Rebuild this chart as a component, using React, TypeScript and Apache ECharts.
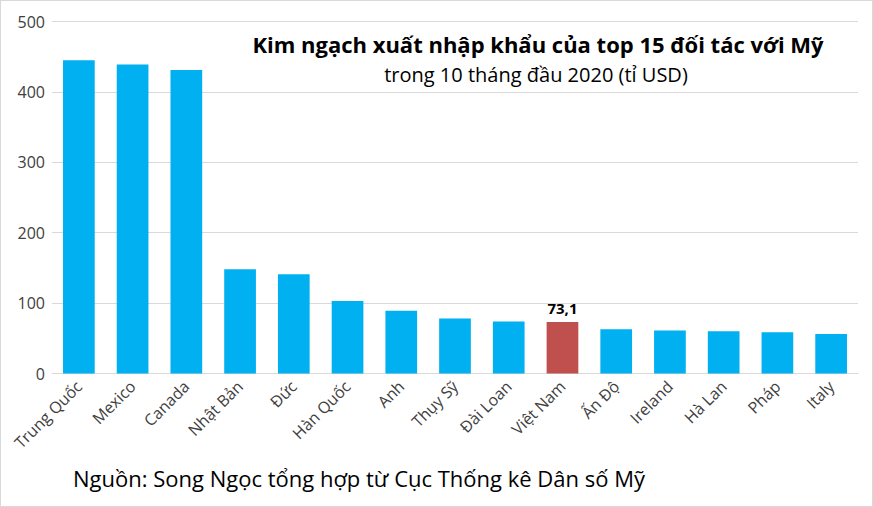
import React, { useEffect, useRef } from 'react';
import * as echarts from 'echarts';

const categories = [
  'Trung Quốc', 'Mexico', 'Canada', 'Nhật Bản', 'Đức', 'Hàn Quốc', 'Anh', 'Thụy Sỹ',
  'Đài Loan', 'Việt Nam', 'Ấn Độ', 'Ireland', 'Hà Lan', 'Pháp', 'Italy',
];
const values = [445, 439, 431, 148, 141, 103, 89, 78, 74, 73.1, 63, 61, 60, 58.5, 56];
const highlight = 'Việt Nam';
const yTicks = [0, 100, 200, 300, 400, 500];

const App: React.FC = () => {
  const chartRef = useRef<HTMLDivElement>(null);

  useEffect(() => {
    if (!chartRef.current) return;
    const chart = echarts.init(chartRef.current, null, { renderer: 'svg' });

    const font = 'Open Sans, Noto Sans, sans-serif';

    const option: echarts.EChartsOption = {
      animation: false,
      backgroundColor: '#fff',
      textStyle: { fontFamily: font },
      title: [
        {
          text: 'Kim ngạch xuất nhập khẩu của top 15 đối tác với Mỹ',
          left: 532,
          top: 27,
          textAlign: 'center',
          textStyle: { fontSize: 22, fontWeight: 'bold', color: '#000', fontFamily: font },
        },
        {
          text: 'trong 10 tháng đầu 2020 (tỉ USD)',
          left: 530,
          top: 58,
          textAlign: 'center',
          textStyle: { fontSize: 20, fontWeight: 'normal', color: '#000', fontFamily: font },
        },
        {
          text: 'Nguồn: Song Ngọc tổng hợp từ Cục Thống kê Dân số Mỹ',
          left: 67,
          top: 461,
          textStyle: { fontSize: 22, fontWeight: 'normal', color: '#000', fontFamily: font },
        },
      ],
      grid: { left: 51, right: 14, top: 20.5, bottom: 132.5, containLabel: false },
      xAxis: {
        type: 'category',
        data: categories,
        axisTick: { show: false },
        axisLine: { lineStyle: { color: '#D9D9D9' } },
        axisLabel: {
          rotate: 45,
          interval: 0,
          fontSize: 16,
          color: '#404040',
          margin: 10,
        },
      },
      yAxis: {
        type: 'value',
        min: yTicks[0],
        max: yTicks[yTicks.length - 1],
        interval: 100,
        axisLine: { show: false },
        axisTick: { show: false },
        splitLine: { lineStyle: { color: '#D9D9D9' } },
        axisLabel: { fontSize: 16, color: '#404040', margin: 7 },
      },
      series: [
        {
          type: 'bar',
          barWidth: '59%',
          data: values.map((v, i) =>
            categories[i] === highlight
              ? {
                  value: v,
                  itemStyle: { color: '#C0504D' },
                  label: {
                    show: true,
                    position: 'top',
                    distance: 7,
                    formatter: () => String(v).replace('.', ','),
                    fontSize: 15,
                    fontWeight: 'bold',
                    color: '#000',
                  },
                }
              : { value: v, itemStyle: { color: '#00B0F0' } }
          ),
        },
      ],
    };

    chart.setOption(option);
    return () => {
      chart.dispose();
    };
  }, []);

  return (
    <div
      ref={chartRef}
      style={{
        position: 'fixed',
        left: 0,
        top: 0,
        width: 873,
        height: 507,
        boxSizing: 'border-box',
        border: '1px solid #D9D9D9',
      }}
    />
  );
};

export default App;
